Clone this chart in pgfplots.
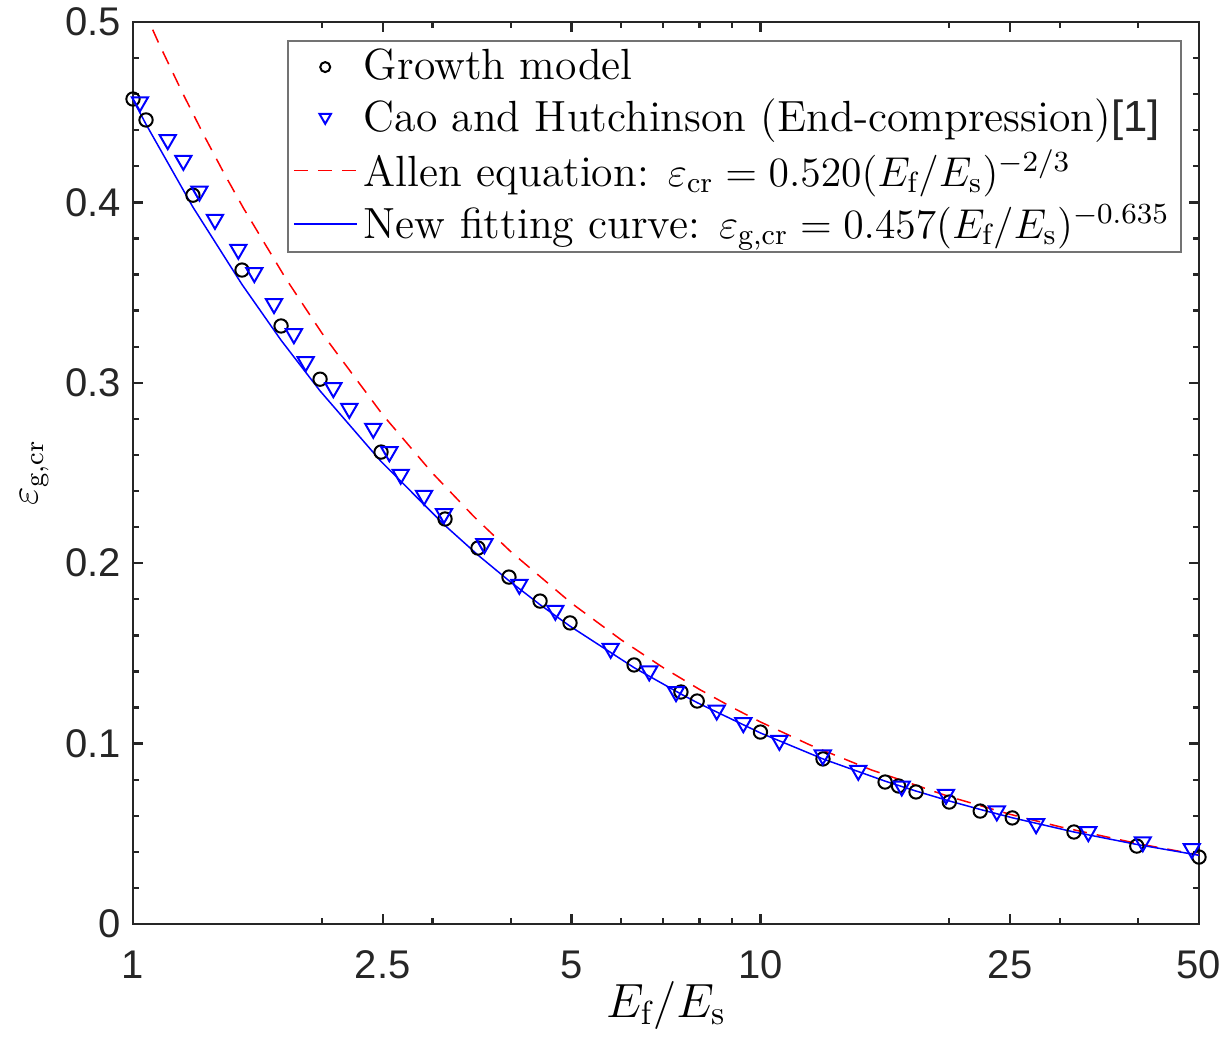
\RequirePackage{fix-cm}
\documentclass[border=0pt]{standalone}
\usepackage{fontspec}
\usepackage{pgfplots}
\pgfplotsset{compat=1.18}
\newfontfamily\hv{Liberation Sans}
\definecolor{axgray}{RGB}{38,38,38}
\newcommand{\lm}[1]{{\fontsize{12.5}{15}\selectfont$#1$}}

\begin{document}
\begin{tikzpicture}
\begin{axis}[
    at={(0,0)}, anchor=south west,
    scale only axis,
    width=319.8pt, height=270.6pt,
    xmode=log,
    xmin=1, xmax=50, ymin=0, ymax=0.5,
    xtick={1,2.5,5,10,25,50},
    xticklabels={1,2.5,5,10,25,50},
    minor xtick={2,3,4,6,7,8,9,20,30,40},
    ytick={0,0.1,0.2,0.3,0.4,0.5},
    yticklabels={0,0.1,0.2,0.3,0.4,0.5},
    minor y tick num=4,
    tick align=inside,
    major tick length=3pt, minor tick length=1.8pt,
    tick style={axgray, line width=0.7pt},
    axis line style={axgray, line width=0.75pt},
    tick label style={font=\hv\fontsize{12}{14}\selectfont, text=axgray},
    xticklabel style={yshift=-4.5pt},
    /pgf/number format/assume math mode=true,
    xlabel={$E_{\mathrm{f}}/E_{\mathrm{s}}$},
    ylabel={$\varepsilon_{\mathrm{g,cr}}$},
    xlabel style={font=\fontsize{14.4}{16}\selectfont, at={(axis description cs:0.5,-0.09)}, anchor=center},
    ylabel style={font=\fontsize{12}{15}\selectfont, at={(axis description cs:-0.0925,0.5)}, anchor=center},
    legend style={at={(rel axis cs:0.984,0.980)}, anchor=north east,
                  draw=black!55, line width=0.5pt,
                  font=\fontsize{13.1}{15}\selectfont,
                  cells={anchor=west}, inner xsep=1.5pt, inner ysep=0.5pt},
    legend cell align=left,
]

% Growth model
\addplot[only marks, mark=o, mark size=2pt, black, line width=0.6pt,
  legend image code/.code={\draw[black,line width=0.6pt] plot[only marks,mark=o,mark size=1.5pt] coordinates {(0.33cm,0cm)};}]
coordinates {
  (1,0.4573) (1.049,0.4457) (1.246,0.4040) (1.492,0.3625) (1.722,0.3315)
  (1.987,0.3020) (2.485,0.2616) (3.143,0.2245) (3.547,0.2084) (3.974,0.1923)
  (4.454,0.1790) (4.972,0.1669) (6.29,0.1436) (7.47,0.1286) (7.93,0.1236)
  (10,0.1064) (12.58,0.0915) (15.8,0.0787) (16.6,0.0765) (17.7,0.0732)
  (20,0.0676) (22.4,0.0626) (25.2,0.0588) (31.6,0.0510) (39.8,0.0432)
  (50,0.0371)
};

% Cao and Hutchinson
\addplot[only marks, mark=triangle, mark size=2.8pt, mark options={rotate=180},
  blue, line width=0.6pt,
  legend image code/.code={\draw[blue,line width=0.6pt] plot[only marks,mark=triangle,mark size=2pt,mark options={rotate=180}] coordinates {(0.33cm,0cm)};}]
coordinates {
  (1.026,0.4557) (1.136,0.4347) (1.203,0.4232) (1.276,0.4062) (1.351,0.3905)
  (1.472,0.3739) (1.561,0.3610) (1.678,0.3438) (1.805,0.3271) (1.885,0.3116)
  (2.086,0.2972) (2.212,0.2857) (2.415,0.2747) (2.562,0.2617) (2.671,0.2492)
  (2.910,0.2375) (3.131,0.2274) (3.631,0.2107) (4.128,0.1882) (4.711,0.1738)
  (5.772,0.1527) (6.650,0.1402) (7.337,0.1287) (8.518,0.1185) (9.391,0.1115)
  (10.72,0.1017) (12.57,0.0936) (14.32,0.0851) (16.80,0.0764) (19.76,0.0718)
  (23.81,0.0626) (27.50,0.0555) (33.31,0.0511) (40.68,0.0455) (48.69,0.0417)
};

% Allen equation
\addplot[red, dash pattern=on 4.2pt off 3pt, line width=0.45pt,
  legend image code/.code={\draw[red,dash pattern=on 4.2pt off 3pt,line width=0.45pt] (0cm,0cm) -- (0.66cm,0cm);}]
coordinates {
  (1,0.5200) (1.1,0.4880) (1.2,0.4605) (1.3,0.4366) (1.4,0.4155) (1.5,0.3968)
  (1.75,0.3581) (2,0.3276) (2.5,0.2823) (3,0.2500) (3.5,0.2256) (4,0.2064)
  (5,0.1778) (6,0.1575) (7,0.1421) (8,0.1300) (9,0.1202) (10,0.1120)
  (12,0.0992) (15,0.0855) (20,0.0706) (25,0.0608) (30,0.0539) (40,0.0445)
  (50,0.0383)
};

% New fitting curve
\addplot[blue, line width=0.45pt,
  legend image code/.code={\draw[blue,line width=0.45pt] (0cm,0cm) -- (0.66cm,0cm);}]
coordinates {
  (1,0.4570) (1.049,0.4433) (1.246,0.3974) (1.492,0.3545) (1.722,0.3236)
  (1.987,0.2955) (2.485,0.2564) (3.143,0.2209) (3.547,0.2045) (3.974,0.1903)
  (4.454,0.1770) (4.972,0.1651) (6.29,0.1421) (7.47,0.1275) (7.93,0.1227)
  (10,0.1059) (12.58,0.0915) (15.8,0.0792) (16.6,0.0768) (17.7,0.0737)
  (20,0.0682) (22.4,0.0635) (25.2,0.0589) (31.6,0.0510) (39.8,0.0441)
  (50,0.0381)
};

\legend{Growth model,
  Cao and Hutchinson (End-compression){\hv\color{axgray}[1]},
  Allen equation: \lm{\varepsilon_{\mathrm{cr}}=0.520(E_{\mathrm{f}}/E_{\mathrm{s}})^{-2/3}},
  New fitting curve: \lm{\varepsilon_{\mathrm{g,cr}}=0.457(E_{\mathrm{f}}/E_{\mathrm{s}})^{-0.635}}}

\end{axis}
\pgfresetboundingbox
\path[use as bounding box] (-39.9pt,-34.2pt) rectangle (327.9pt,277.2pt);
\end{tikzpicture}
\end{document}
